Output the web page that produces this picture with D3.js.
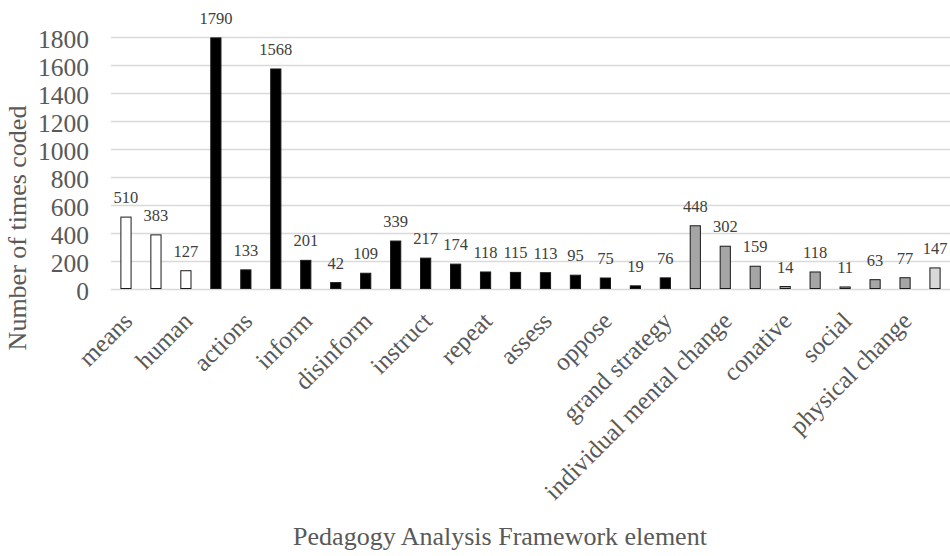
<!DOCTYPE html>
<html>
<head>
<meta charset="utf-8">
<script src="https://cdn.jsdelivr.net/npm/d3@7"></script>
<style>
  body { margin: 0; background: #fff; }
  svg { display: block; }
  text { font-family: "Liberation Serif", "Times New Roman", Times, "DejaVu Serif", serif; }
</style>
</head>
<body>
<svg id="chart" width="950" height="556"></svg>
<script>
// Data (28 bars, only every other one labelled on the axis)
const values = [510, 383, 127, 1790, 133, 1568, 201, 42, 109, 339, 217, 174, 118, 115,
                113, 95, 75, 19, 76, 448, 302, 159, 14, 118, 11, 63, 77, 147];
// Group of each bar -> fill colour
const groups = ["w", "w", "w", "k", "k", "k", "k", "k", "k", "k", "k", "k", "k", "k",
                "k", "k", "k", "k", "k", "g", "g", "g", "g", "g", "g", "g", "g", "l"];
// Tick labels shown under bars 0, 2, 4, ...
const tickLabels = ["means", "human", "actions", "inform", "disinform", "instruct", "repeat",
                    "assess", "oppose", "grand strategy", "individual mental change",
                    "conative", "social", "physical change"];
const yTicks = [0, 200, 400, 600, 800, 1000, 1200, 1400, 1600, 1800];

const fills = { w: "#ffffff", k: "#000000", g: "#a5a5a5", l: "#d9d9d9" };
const serif = "Liberation Serif, Times New Roman, Times, serif";

const svg = d3.select("#chart").attr("font-family", serif);
const plotL = 111, plotR = 950, plotT = 36.5, plotB = 288.5;

const x = d3.scaleBand()
    .domain(d3.range(values.length))
    .range([plotL, plotR])
    .paddingInner(0.66)
    .paddingOuter(0.33);

const y = d3.scaleLinear()
    .domain([0, 1800])
    .range([plotB, plotT]);

// Gridlines
svg.append("g")
    .selectAll("line")
    .data(yTicks)
    .enter()
    .append("line")
    .attr("x1", plotL)
    .attr("x2", plotR)
    .attr("y1", d => Math.round(y(d)) + 0.5)
    .attr("y2", d => Math.round(y(d)) + 0.5)
    .attr("stroke", "#d9d9d9")
    .attr("stroke-width", 1.3);

// Y tick labels
svg.append("g")
    .selectAll("text")
    .data(yTicks)
    .enter()
    .append("text")
    .attr("x", 89)
    .attr("y", d => y(d) + 3)
    .attr("dominant-baseline", "central")
    .attr("text-anchor", "end")
    .attr("font-family", serif)
    .attr("font-size", "25.5px")
    .attr("fill", "#595959")
    .text(d => d);

// Bars
svg.append("g")
    .selectAll("rect")
    .data(values)
    .enter()
    .append("rect")
    .attr("x", (d, i) => x(i))
    .attr("width", x.bandwidth())
    .attr("y", d => y(d))
    .attr("height", d => y(0) - y(d))
    .attr("fill", (d, i) => fills[groups[i]])
    .attr("stroke", "#1a1a1a")
    .attr("stroke-width", 1);

// Value labels
svg.append("g")
    .selectAll("text")
    .data(values)
    .enter()
    .append("text")
    .attr("x", (d, i) => x(i) + x.bandwidth() / 2)
    .attr("y", d => y(d) - 14)
    .attr("text-anchor", "middle")
    .attr("font-family", serif)
    .attr("font-size", "16.5px")
    .attr("fill", "#404040")
    .text(d => d);

// X tick labels, rotated
svg.append("g")
    .selectAll("text")
    .data(tickLabels)
    .enter()
    .append("text")
    .attr("transform", (d, i) => {
        const cx = x(i * 2) + x.bandwidth() / 2;
        return `translate(${cx + 8},${plotB + 34}) rotate(-45)`;
    })
    .attr("text-anchor", "end")
    .attr("font-family", serif)
    .attr("font-size", "25px")
    .attr("fill", "#595959")
    .text(d => d);

// Axis titles
svg.append("text")
    .attr("x", 500)
    .attr("y", 545)
    .attr("text-anchor", "middle")
    .attr("font-family", serif)
    .attr("font-size", "26px")
    .attr("fill", "#595959")
    .text("Pedagogy Analysis Framework element");

svg.append("text")
    .attr("transform", "translate(26,228) rotate(-90)")
    .attr("text-anchor", "middle")
    .attr("font-family", serif)
    .attr("font-size", "26px")
    .attr("fill", "#595959")
    .text("Number of times coded");
</script>
</body>
</html>
